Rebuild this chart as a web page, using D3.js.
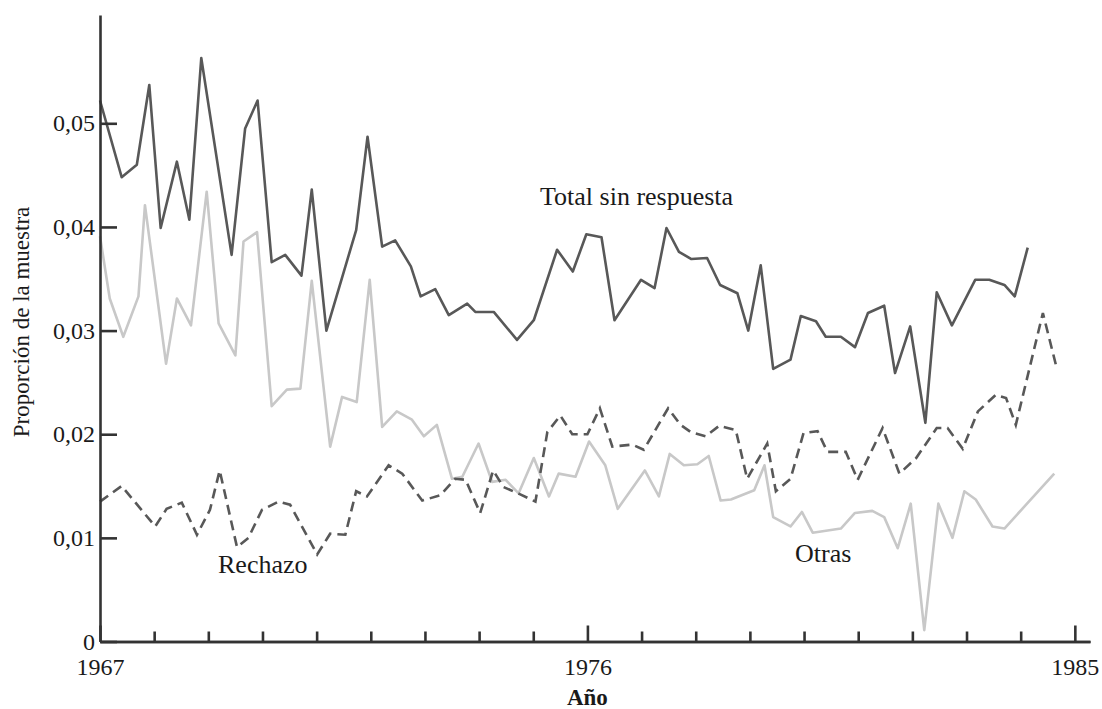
<!DOCTYPE html>
<html>
<head>
<meta charset="utf-8">
<script src="https://cdn.jsdelivr.net/npm/d3@7"></script>
<style>
  body { margin: 0; background: #fff; }
  svg text { font-family: "Liberation Serif", "DejaVu Serif", serif; fill: #1a1a1a; }
</style>
</head>
<body>
<svg id="graph" width="1102" height="709"></svg>
<script>
// Sample non-response by year
var totalYears = [1967.00,1967.40,1967.68,1967.91,1968.12,1968.42,1968.65,1968.87,1969.43,1969.68,
                  1969.91,1970.17,1970.42,1970.72,1970.91,1971.18,1971.73,1971.94,1972.21,1972.45,
                  1972.74,1972.92,1973.19,1973.44,1973.78,1973.93,1974.27,1974.70,1975.01,1975.44,
                  1975.73,1975.98,1976.26,1976.50,1976.99,1977.24,1977.46,1977.69,1977.92,1978.21,
                  1978.45,1978.77,1978.97,1979.20,1979.43,1979.75,1979.94,1980.22,1980.40,1980.68,
                  1980.94,1981.18,1981.48,1981.68,1981.96,1982.24,1982.45,1982.73,1983.16,1983.42,
                  1983.70,1983.89,1984.13];
var totalVals  = [.0522,.0448,.0460,.0537,.0399,.0463,.0407,.0563,.0373,.0495,
                  .0522,.0366,.0373,.0353,.0436,.0300,.0397,.0487,.0381,.0387,
                  .0362,.0333,.0340,.0315,.0326,.0318,.0318,.0291,.0310,.0378,
                  .0357,.0393,.0390,.0310,.0349,.0341,.0399,.0376,.0369,.0370,
                  .0344,.0336,.0300,.0363,.0263,.0272,.0314,.0309,.0294,.0294,
                  .0284,.0317,.0324,.0259,.0304,.0211,.0337,.0305,.0349,.0349,
                  .0344,.0333,.0380];

var otrasYears = [1967.00,1967.18,1967.43,1967.71,1967.83,1968.22,1968.42,1968.68,1968.97,1969.19,
                  1969.50,1969.65,1969.90,1970.17,1970.45,1970.70,1970.91,1971.25,1971.47,1971.74,
                  1971.98,1972.21,1972.48,1972.76,1972.98,1973.22,1973.50,1973.69,1973.99,1974.24,
                  1974.49,1974.73,1975.01,1975.29,1975.47,1975.78,1976.03,1976.33,1976.56,1977.06,
                  1977.32,1977.52,1977.78,1978.03,1978.24,1978.46,1978.65,1979.08,1979.27,1979.43,
                  1979.75,1979.96,1980.16,1980.68,1980.94,1981.26,1981.48,1981.73,1981.97,1982.22,
                  1982.48,1982.74,1982.96,1983.17,1983.48,1983.70,1984.62];
var otrasVals  = [.0391,.0331,.0294,.0333,.0421,.0268,.0331,.0305,.0434,.0307,
                  .0276,.0386,.0395,.0227,.0243,.0244,.0348,.0188,.0236,.0231,
                  .0349,.0207,.0222,.0214,.0198,.0209,.0157,.0159,.0191,.0154,
                  .0156,.0143,.0177,.0140,.0162,.0159,.0193,.0170,.0128,.0165,
                  .0140,.0181,.0170,.0171,.0179,.0136,.0137,.0146,.0170,.0120,
                  .0111,.0125,.0105,.0109,.0124,.0126,.0120,.0090,.0133,.0011,
                  .0133,.0100,.0145,.0137,.0111,.0109,.0162];

var rechYears = [1967.00,1967.40,1968.02,1968.23,1968.51,1968.79,1969.03,1969.21,1969.53,1969.74,
                 1969.99,1970.30,1970.51,1971.01,1971.25,1971.53,1971.73,1971.93,1972.33,1972.58,
                 1972.95,1973.28,1973.56,1973.75,1974.02,1974.26,1974.45,1974.76,1975.04,1975.26,
                 1975.50,1975.72,1976.00,1976.23,1976.46,1976.83,1977.04,1977.49,1977.72,1977.91,
                 1978.18,1978.43,1978.74,1978.95,1979.32,1979.48,1979.75,1979.99,1980.25,1980.43,
                 1980.77,1980.99,1981.45,1981.76,1982.07,1982.45,1982.65,1982.93,1983.21,1983.54,
                 1983.73,1983.91,1984.41,1984.65];
var rechVals  = [.0135,.0150,.0111,.0128,.0134,.0103,.0127,.0165,.0091,.0100,
                 .0127,.0135,.0132,.0084,.0104,.0103,.0145,.0140,.0170,.0162,
                 .0136,.0141,.0157,.0156,.0124,.0165,.0149,.0142,.0135,.0202,
                 .0218,.0200,.0200,.0225,.0188,.0190,.0185,.0225,.0209,.0202,
                 .0198,.0208,.0204,.0157,.0191,.0145,.0157,.0201,.0203,.0183,
                 .0183,.0156,.0206,.0162,.0177,.0206,.0206,.0186,.0222,.0238,
                 .0235,.0209,.0317,.0267];

var yTicks     = [0, 0.01, 0.02, 0.03, 0.04, 0.05];
var xMajor     = [1967, 1976, 1985];
var xMinor     = d3.range(1968, 1985).filter(function(y) { return y != 1976; });

var svgElt = d3.select("#graph");

// scales (axis corner at 100,641.5)
var xscale = d3.scaleLinear().domain([1967, 1985.28]).range([100, 1090]);
var yscale = d3.scaleLinear().domain([0, 0.06045]).range([641.5, 15]);

function zipSeries(xs, ys) {
  return xs.map(function(x, i) { return {year: x, v: ys[i]}; });
}

var line = d3.line()
  .x(function(d) { return xscale(d.year); })
  .y(function(d) { return yscale(d.v); });

// series
svgElt.append("path")
  .datum(zipSeries(otrasYears, otrasVals))
  .attr("fill", "none")
  .attr("stroke", "#c8c8c8")
  .attr("stroke-width", 2.6)
  .attr("stroke-linejoin", "round")
  .attr("d", line);

svgElt.append("path")
  .datum(zipSeries(rechYears, rechVals))
  .attr("fill", "none")
  .attr("stroke", "#585858")
  .attr("stroke-width", 2.6)
  .attr("stroke-dasharray", "10,6")
  .attr("d", line);

svgElt.append("path")
  .datum(zipSeries(totalYears, totalVals))
  .attr("fill", "none")
  .attr("stroke", "#585858")
  .attr("stroke-width", 2.6)
  .attr("stroke-linejoin", "round")
  .attr("d", line);

// x axis: minor ticks, then labelled major ticks
svgElt.append("g")
  .attr("class", "x axis minor")
  .attr("transform", "translate(0," + yscale(0) + ")")
  .call(d3.axisBottom(xscale).tickValues(xMinor).tickSize(-10).tickSizeOuter(0).tickFormat(""));

svgElt.append("g")
  .attr("class", "x axis major")
  .attr("transform", "translate(0," + yscale(0) + ")")
  .call(d3.axisBottom(xscale).tickValues(xMajor).tickSize(-16).tickSizeOuter(0).tickPadding(16)
          .tickFormat(d3.format("d")));

// y axis, ticks point into the plot
svgElt.append("g")
  .attr("class", "y axis")
  .attr("transform", "translate(" + xscale(1967) + ",0)")
  .call(d3.axisLeft(yscale).tickValues(yTicks).tickSize(-17).tickSizeOuter(0).tickPadding(5)
          .tickFormat(function(d) { return d === 0 ? "0" : d3.format(".2f")(d).replace(".", ","); }));

svgElt.selectAll(".axis path, .axis line")
  .attr("stroke", "#333")
  .attr("stroke-width", 2.6);
svgElt.selectAll(".axis text")
  .attr("font-family", "Liberation Serif, serif")
  .attr("font-size", 24)
  .attr("fill", "#1a1a1a");

// axis titles
svgElt.append("text")
  .attr("text-anchor", "middle")
  .attr("transform", "translate(29," + 322 + ")rotate(-90)")
  .attr("font-size", 23)
  .text("Proporción de la muestra");

svgElt.append("text")
  .attr("text-anchor", "middle")
  .attr("x", xscale(1976))
  .attr("y", 705)
  .attr("font-size", 23)
  .attr("font-weight", "bold")
  .text("Año");

// series labels
svgElt.append("text").attr("x", 540).attr("y", 205).attr("font-size", 26).text("Total sin respuesta");
svgElt.append("text").attr("x", 218).attr("y", 573).attr("font-size", 26).text("Rechazo");
svgElt.append("text").attr("x", 795).attr("y", 562).attr("font-size", 26).text("Otras");
</script>
</body>
</html>
